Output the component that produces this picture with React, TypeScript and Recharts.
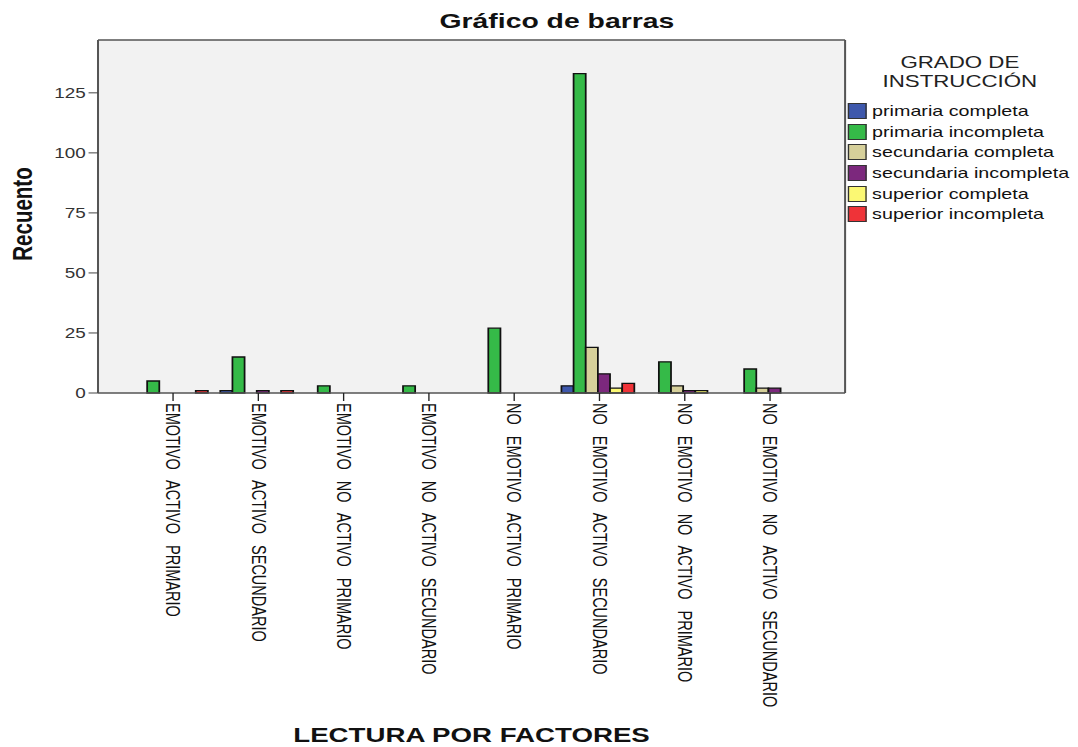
import React from 'react';
import { BarChart, Bar, XAxis, YAxis, CartesianGrid, Label } from 'recharts';

const categories = [
  'EMOTIVO ACTIVO PRIMARIO',
  'EMOTIVO ACTIVO SECUNDARIO',
  'EMOTIVO NO ACTIVO PRIMARIO',
  'EMOTIVO NO ACTIVO SECUNDARIO',
  'NO EMOTIVO ACTIVO PRIMARIO',
  'NO EMOTIVO ACTIVO SECUNDARIO',
  'NO EMOTIVO NO ACTIVO PRIMARIO',
  'NO EMOTIVO NO ACTIVO SECUNDARIO',
];

const primariaCompleta = [0, 1, 0, 0, 0, 3, 0, 0];
const primariaIncompleta = [5, 15, 3, 3, 27, 133, 13, 10];
const secundariaCompleta = [0, 0, 0, 0, 0, 19, 3, 2];
const secundariaIncompleta = [0, 1, 0, 0, 0, 8, 1, 2];
const superiorCompleta = [0, 0, 0, 0, 0, 2, 1, 0];
const superiorIncompleta = [1, 1, 0, 0, 0, 4, 0, 0];

const yTicks = [0, 25, 50, 75, 100, 125];

const series = [
  { key: 'pc', name: 'primaria completa', values: primariaCompleta, color: '#3E58AC' },
  { key: 'pi', name: 'primaria incompleta', values: primariaIncompleta, color: '#35BA48' },
  { key: 'sc', name: 'secundaria completa', values: secundariaCompleta, color: '#D6D09A' },
  { key: 'si', name: 'secundaria incompleta', values: secundariaIncompleta, color: '#7C287D' },
  { key: 'uc', name: 'superior completa', values: superiorCompleta, color: '#FBF873' },
  { key: 'ui', name: 'superior incompleta', values: superiorIncompleta, color: '#EF3338' },
];

const data = categories.map((name, i) => {
  const row: Record<string, string | number> = { name };
  series.forEach((s) => {
    row[s.key] = s.values[i];
  });
  return row;
});

// the original picture is stretched sideways, so the whole chart is drawn narrow and scaled
const K = 1.35;
const W = 1078 / K;
const FONT = "Arial, 'Liberation Sans', sans-serif";

const CatTick = (props: any) => {
  const { x, y, payload } = props;
  return (
    <text
      transform={`translate(${x},${y}) rotate(90)`}
      textAnchor="start"
      dominantBaseline="central"
      fontSize={14.5}
      fontFamily={FONT}
      fill="#111"
      style={{ wordSpacing: 7 }}
    >
      {payload.value}
    </text>
  );
};

export default function App() {
  return (
    <div style={{ position: 'absolute', left: 0, top: 0, width: 1078, height: 747, overflow: 'hidden', background: '#fff' }}>
      <div style={{ width: W, height: 747, transform: `scaleX(${K})`, transformOrigin: '0 0', position: 'relative', fontFamily: FONT }}>
        <div
          style={{
            position: 'absolute',
            left: 0,
            top: 9,
            width: 825,
            textAlign: 'center',
            fontSize: 21,
            lineHeight: '24px',
            fontWeight: 'bold',
            color: '#111',
          }}
        >
          Gráfico de barras
        </div>

        <BarChart
          width={W}
          height={747}
          data={data}
          margin={{ top: 40, right: W - 626, bottom: 0, left: 0 }}
          barCategoryGap={3.4}
          barGap={0}
        >
          {/* plot frame: background plus top and right edges */}
          <CartesianGrid
            fill="#F2F2F2"
            stroke="#555"
            strokeWidth={1.5}
            horizontalCoordinatesGenerator={({ offset }: any) => [offset.top]}
            verticalCoordinatesGenerator={({ offset }: any) => [offset.left + offset.width]}
          />
          <XAxis
            dataKey="name"
            height={354}
            padding={{ left: 24, right: 24 }}
            interval={0}
            tickSize={8}
            tickMargin={2}
            tickLine={{ stroke: '#222' }}
            axisLine={{ stroke: '#555', strokeWidth: 1.5 }}
            tick={<CatTick />}
          >
            <Label
              content={(p: any) => {
                const vb = p.viewBox || {};
                return (
                  <text
                    x={vb.x + vb.width / 2}
                    y={742}
                    textAnchor="middle"
                    fontSize={20.5}
                    fontWeight="bold"
                    fontFamily={FONT}
                    fill="#111"
                  >
                    LECTURA POR FACTORES
                  </text>
                );
              }}
            />
          </XAxis>
          <YAxis
            width={72.6}
            domain={[0, 147]}
            ticks={yTicks}
            interval={0}
            tickSize={7}
            tickMargin={2}
            tick={{ fontSize: 14, fill: '#333', fontFamily: FONT }}
            tickLine={{ stroke: '#444' }}
            axisLine={{ stroke: '#555', strokeWidth: 1.5 }}
          >
            <Label
              content={() => (
                <text
                  transform="translate(16.3,214) rotate(-90)"
                  textAnchor="middle"
                  dominantBaseline="central"
                  fontSize={20.5}
                  fontWeight="bold"
                  fontFamily={FONT}
                  fill="#111"
                >
                  Recuento
                </text>
              )}
            />
          </YAxis>
          {series.map((s) => (
            <Bar
              key={s.key}
              dataKey={s.key}
              name={s.name}
              fill={s.color}
              stroke="#111"
              strokeWidth={1.3}
              isAnimationActive={false}
            />
          ))}
        </BarChart>

        <div style={{ position: 'absolute', left: 628, top: 53, width: 166, color: '#222' }}>
          <div style={{ textAlign: 'center', fontSize: 16.5, lineHeight: '19px' }}>
            GRADO DE
            <br />
            INSTRUCCIÓN
          </div>
          <div style={{ marginTop: 10 }}>
            {series.map((s) => (
              <div key={s.key} style={{ display: 'flex', alignItems: 'center', height: 20.6 }}>
                <div
                  style={{
                    width: 12,
                    height: 14,
                    background: s.color,
                    border: '1px solid #333',
                    marginRight: 4,
                    flexShrink: 0,
                  }}
                />
                <span style={{ fontSize: 14.6, whiteSpace: 'nowrap', color: '#111' }}>{s.name}</span>
              </div>
            ))}
          </div>
        </div>
      </div>
    </div>
  );
}
